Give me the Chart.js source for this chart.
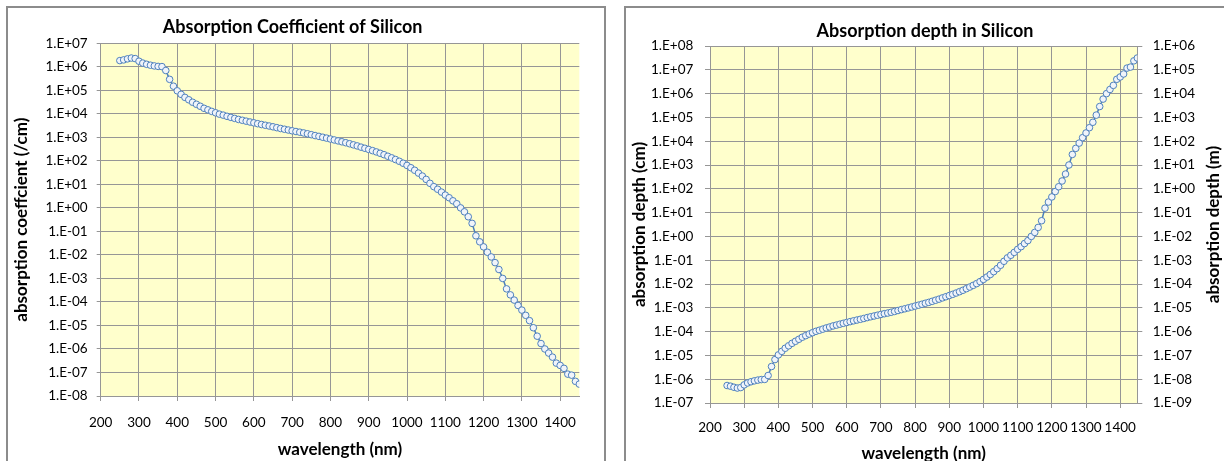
<!DOCTYPE html>
<html><head><meta charset="utf-8">
<script src="https://cdn.jsdelivr.net/npm/chart.js@4"></script>
<style>
html,body{margin:0;padding:0;background:#fff;width:1224px;height:461px;overflow:hidden;position:relative;}
canvas{position:absolute;top:0;}
#c1{left:6px;}
#c2{left:625px;}
.frame{position:absolute;border:2px solid #8c8c8c;pointer-events:none;box-sizing:border-box;}
#f1{left:6px;top:6px;width:600px;height:470px;}
#f2{left:624px;top:6px;width:620px;height:470px;}
</style></head>
<body>
<canvas id="c1" width="600" height="461"></canvas>
<canvas id="c2" width="600" height="461"></canvas>
<div class="frame" id="f1"></div>
<div class="frame" id="f2"></div>
<script>
// ---- data ----
const wavelength = [250,260,270,280,290,300,310,320,330,340,350,360,370,380,390,400,410,420,430,440,450,460,470,480,490,500,510,520,530,540,550,560,570,580,590,600,610,620,630,640,650,660,670,680,690,700,710,720,730,740,750,760,770,780,790,800,810,820,830,840,850,860,870,880,890,900,910,920,930,940,950,960,970,980,990,1000,1010,1020,1030,1040,1050,1060,1070,1080,1090,1100,1110,1120,1130,1140,1150,1160,1170,1180,1190,1200,1210,1220,1230,1240,1250,1260,1270,1280,1290,1300,1310,1320,1330,1340,1350,1360,1370,1380,1390,1400,1410,1420,1430,1440,1450];

const alphaPerCm = [1.84e6,1.97e6,2.18e6,2.36e6,2.24e6,1.73e6,1.44e6,1.28e6,1.17e6,1.09e6,1.04e6,1.02e6,6.97e5,2.93e5,1.50e5,9.52e4,6.74e4,5.00e4,3.96e4,3.11e4,2.55e4,2.10e4,1.72e4,1.48e4,1.27e4,1.11e4,9.70e3,8.80e3,7.85e3,7.05e3,6.39e3,5.78e3,5.32e3,4.88e3,4.49e3,4.14e3,3.81e3,3.52e3,3.27e3,3.04e3,2.81e3,2.58e3,2.38e3,2.21e3,2.05e3,1.90e3,1.77e3,1.66e3,1.54e3,1.42e3,1.30e3,1.19e3,1.10e3,1.01e3,928,850,775,707,647,591,535,480,432,383,343,306,272,240,210,183,157,134,114,95.9,79.2,64.0,51.1,39.9,30.2,22.6,16.3,11.1,8.0,6.2,4.7,3.5,2.7,2.0,1.5,1.0,0.68,0.42,0.22,0.065,0.036,0.022,0.013,0.0082,0.0047,0.0024,0.0010,3.6e-4,2.0e-4,1.2e-4,7.1e-5,4.5e-5,2.7e-5,1.6e-5,8.0e-6,3.5e-6,1.7e-6,1.0e-6,6.7e-7,4.5e-7,2.5e-7,2.0e-7,1.5e-7,8.5e-8,7.7e-8,4.2e-8,3.2e-8];

const depthCm = [5.43e-7,5.08e-7,4.59e-7,4.24e-7,4.46e-7,5.78e-7,6.94e-7,7.81e-7,8.55e-7,9.17e-7,9.62e-7,9.80e-7,1.43e-6,3.41e-6,6.67e-6,1.05e-5,1.48e-5,2.00e-5,2.53e-5,3.22e-5,3.92e-5,4.76e-5,5.81e-5,6.76e-5,7.87e-5,9.01e-5,1.03e-4,1.14e-4,1.27e-4,1.42e-4,1.56e-4,1.73e-4,1.88e-4,2.05e-4,2.23e-4,2.42e-4,2.62e-4,2.84e-4,3.06e-4,3.29e-4,3.56e-4,3.88e-4,4.20e-4,4.52e-4,4.88e-4,5.26e-4,5.65e-4,6.02e-4,6.49e-4,7.04e-4,7.69e-4,8.40e-4,9.09e-4,9.90e-4,1.08e-3,1.18e-3,1.29e-3,1.41e-3,1.55e-3,1.69e-3,1.87e-3,2.08e-3,2.31e-3,2.61e-3,2.92e-3,3.27e-3,3.68e-3,4.17e-3,4.76e-3,5.46e-3,6.37e-3,7.46e-3,8.77e-3,1.04e-2,1.26e-2,1.56e-2,1.96e-2,2.51e-2,3.31e-2,4.42e-2,6.13e-2,9.01e-2,0.125,0.161,0.213,0.286,0.370,0.500,0.667,1.00,1.47,2.38,4.55,15.4,27.8,45.5,76.9,122,213,417,1000,2780,5000,8330,1.41e4,2.22e4,3.70e4,6.25e4,1.25e5,2.86e5,5.88e5,1.00e6,1.49e6,2.22e6,4.00e6,5.00e6,6.67e6,1.18e7,1.30e7,2.38e7,3.13e7];

const xTickValues = [200,300,400,500,600,700,800,900,1000,1100,1200,1300,1400];
const alphaTickValues = [1e7,1e6,1e5,1e4,1e3,1e2,1e1,1e0,1e-1,1e-2,1e-3,1e-4,1e-5,1e-6,1e-7,1e-8];
const depthCmTickValues = [1e8,1e7,1e6,1e5,1e4,1e3,1e2,1e1,1e0,1e-1,1e-2,1e-3,1e-4,1e-5,1e-6,1e-7];
const depthMTickValues = [1e6,1e5,1e4,1e3,1e2,1e1,1e0,1e-1,1e-2,1e-3,1e-4,1e-5,1e-6,1e-7,1e-8,1e-9];

// ---- styling ----
const FONT = 'Lato';
const GRID = '#969696';
const tickFont = {family: FONT, size: 13.5};
const axisTitleFont = {family: FONT, size: 17, weight: 'bold'};
const chartTitleFont = {family: FONT, size: 18, weight: 'bold'};

function sciLabel(v) {
  const e = Math.round(Math.log10(v));
  const s = e < 0 ? '-' : '+';
  const a = Math.abs(e);
  return '1.E' + s + (a < 10 ? '0' : '') + a;
}
function fixedTicks(vals) {
  return function(scale) { scale.ticks = vals.map(v => ({value: v})); };
}

const bgPlugin = {
  id: 'plotBg',
  beforeDraw(chart) {
    const {ctx, chartArea: a} = chart;
    ctx.save();
    ctx.fillStyle = '#FFFFCC';
    ctx.fillRect(a.left, a.top, a.right - a.left, a.bottom - a.top);
    ctx.restore();
  }
};

function dataset(yvals, axisId) {
  return {
    data: wavelength.map((w, i) => ({x: w, y: yvals[i]})),
    yAxisID: axisId,
    borderColor: '#4A7EBB',
    borderWidth: 1.5,
    pointRadius: 3.3,
    pointBorderWidth: 1,
    pointBorderColor: '#4F81BD',
    pointBackgroundColor: '#F0F4FA',
    tension: 0,
    fill: false
  };
}

function xScale(height, pad, titlePadBottom) {
  return {
    type: 'linear', min: 200, max: 1450,
    afterBuildTicks: fixedTicks(xTickValues),
    afterFit(s) { s.height = height; },
    ticks: {autoSkip: false, maxRotation: 0, minRotation: 0, padding: pad, font: tickFont, color: '#000', callback: v => String(v)},
    grid: {color: GRID, tickLength: 5, drawTicks: true},
    border: {color: GRID},
    title: {display: true, text: 'wavelength (nm)', font: axisTitleFont, color: '#000', padding: {top: 0, bottom: titlePadBottom}}
  };
}

Chart.defaults.font.family = FONT;

function makeCharts() {
  // Left chart
  new Chart(document.getElementById('c1'), {
    type: 'line',
    data: {datasets: [dataset(alphaPerCm, 'y')]},
    plugins: [bgPlugin],
    options: {
      responsive: false, animation: false,
      layout: {padding: {left: 0, right: 26.7, top: 0, bottom: 0}},
      plugins: {
        legend: {display: false}, tooltip: {enabled: false},
        title: {display: true, text: 'Absorption Coefficient of Silicon', font: chartTitleFont, color: '#000', padding: {top: 16.2, bottom: 5.5}}
      },
      scales: {
        x: xScale(65, 13.6, 1),
        y: {
          type: 'logarithmic', min: 1e-8, max: 1e7,
          afterBuildTicks: fixedTicks(alphaTickValues),
          afterFit(s) { s.width = 94.7; },
          ticks: {padding: 9, font: tickFont, color: '#000', callback: v => sciLabel(v)},
          grid: {color: GRID, tickLength: 4},
          border: {color: GRID},
          title: {display: true, text: 'absorption coeffcient (/cm)', font: axisTitleFont, color: '#000', padding: {top: 5.8, bottom: 0}}
        }
      }
    }
  });

  // Right chart
  const rightTitlePlugin = {
    id: 'rightTitle',
    afterDraw(chart) {
      const {ctx, chartArea: a} = chart;
      ctx.save();
      ctx.font = 'bold 17px ' + FONT;
      ctx.fillStyle = '#000';
      ctx.textAlign = 'center';
      ctx.textBaseline = 'middle';
      ctx.translate(589, (a.top + a.bottom) / 2);
      ctx.rotate(-Math.PI / 2);
      ctx.fillText('absorption depth (m)', 0, 0);
      ctx.restore();
    }
  };
  new Chart(document.getElementById('c2'), {
    type: 'line',
    data: {datasets: [dataset(depthCm, 'y')]},
    plugins: [bgPlugin, rightTitlePlugin],
    options: {
      responsive: false, animation: false,
      layout: {padding: {left: 0, right: 0, top: 0, bottom: 0}},
      plugins: {
        legend: {display: false}, tooltip: {enabled: false},
        title: {display: true, text: 'Absorption depth in Silicon', font: chartTitleFont, color: '#000', padding: {top: 20.8, bottom: 3.6}}
      },
      scales: {
        x: xScale(58, 11.6, -3),
        y: {
          type: 'logarithmic', position: 'left', min: 1e-7, max: 1e8,
          afterBuildTicks: fixedTicks(depthCmTickValues),
          afterFit(s) { s.width = 85; },
          ticks: {padding: 11.7, font: tickFont, color: '#000', callback: v => sciLabel(v)},
          grid: {color: GRID, tickLength: 5},
          border: {color: GRID},
          title: {display: true, text: 'absorption depth (cm)', font: axisTitleFont, color: '#000', padding: {top: 4.8, bottom: 0}}
        },
        y2: {
          type: 'logarithmic', position: 'right', min: 1e-9, max: 1e6,
          afterBuildTicks: fixedTicks(depthMTickValues),
          afterFit(s) { s.width = 87.7; },
          ticks: {padding: 10.4, font: tickFont, color: '#000', callback: v => sciLabel(v)},
          grid: {color: GRID, tickLength: 5, drawOnChartArea: false},
          border: {color: GRID},
          title: {display: false}
        }
      }
    }
  });
}

if (document.fonts && document.fonts.load) {
  Promise.all([document.fonts.load('13px Lato'), document.fonts.load('bold 17px Lato')]).then(makeCharts, makeCharts);
} else { makeCharts(); }
</script>
</body></html>
